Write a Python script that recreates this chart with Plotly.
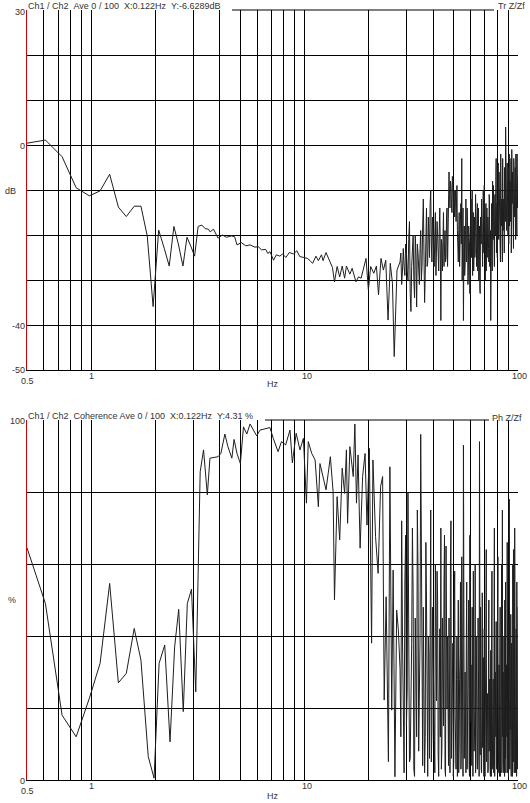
import math
import plotly.graph_objects as go

W, H = 530, 803

# transfer function, low range (Hz, dB)
freq_tr_lo = [0.5, 0.61, 0.73, 0.79, 0.85, 0.98, 1.10, 1.22, 1.34, 1.46, 1.59, 1.71, 1.83, 1.95,
              2.07, 2.20, 2.32, 2.44, 2.56, 2.69, 2.81, 2.93, 3.05, 3.17, 3.30, 3.42, 3.54, 3.61,
              3.74, 3.93, 4.12, 4.30, 4.54, 4.70, 4.82, 5.05, 5.30, 5.55, 5.85, 6.06, 6.29, 6.57,
              6.72, 6.88, 7.15, 7.37, 7.66, 7.88, 8.17, 8.47, 8.86, 9.20, 9.49, 9.93, 10.3, 10.6,
              10.9, 11.3, 11.6, 12.0, 12.2, 12.6, 13.1, 13.5, 13.8, 14.2, 14.6, 15.0, 15.4, 15.7,
              16.3, 16.7, 17.4, 17.9, 18.4, 18.8, 19.4, 19.9, 20.4, 21.1, 21.7, 22.2, 22.8, 23.4,
              24.0, 24.6, 25.2, 25.8, 26.3, 27.1, 27.6]
db_lo = [0.4, 1.1, -2.6, -6.3, -9.5, -11.3, -10.2, -6.5, -13.8, -15.9, -13.6, -13.6, -20.2, -35.9,
         -18.9, -23.0, -26.9, -18.1, -22.0, -26.9, -20.5, -22.5, -24.7, -18.1, -17.8, -18.6, -18.7, -19.3,
         -18.7, -20.7, -20.0, -20.5, -20.2, -20.4, -22.2, -21.7, -22.4, -22.2, -22.7, -22.6, -23.3, -23.2,
         -24.1, -23.7, -25.6, -24.4, -24.7, -24.2, -25.0, -23.9, -24.2, -23.5, -24.8, -25.0, -25.2, -25.7,
         -26.3, -24.7, -25.7, -24.4, -25.7, -23.9, -25.9, -27.2, -30.4, -27.0, -29.3, -26.9, -29.6, -26.9,
         -28.7, -27.4, -30.4, -29.3, -29.6, -27.8, -25.2, -32.2, -27.0, -28.5, -26.9, -33.3, -25.2, -27.8,
         -25.6, -38.9, -26.3, -30.7, -47.0, -27.8, -27.0]

# coherence, low range (Hz, %)
freq_coh_lo = [0.5, 0.61, 0.73, 0.85, 0.98, 1.10, 1.22, 1.34, 1.46, 1.59, 1.71, 1.85, 1.97, 2.08,
               2.21, 2.34, 2.46, 2.57, 2.70, 2.82, 2.95, 3.09, 3.24, 3.36, 3.50, 3.60, 3.93, 4.05,
               4.23, 4.37, 4.56, 4.67, 4.82, 5.0, 5.17, 5.36, 5.55, 5.75, 5.96, 6.18, 6.88, 7.13,
               7.51, 7.79, 8.15, 8.54, 8.76, 9.13, 9.51, 9.87, 10.2, 10.4, 10.8, 11.2, 11.6, 11.8,
               12.2, 12.6, 12.9, 13.2, 13.6, 13.8, 14.2, 14.6, 15.0, 15.4, 15.7, 15.9, 16.3, 16.9,
               17.2, 17.5, 17.8, 18.2, 18.7, 19.2, 19.6, 20.1, 20.6, 20.9, 21.5, 22.1, 22.7, 23.2,
               23.6, 24.1, 24.7, 25.1, 25.6, 26.0, 26.5, 27.0, 27.5]
coh_lo = [64.5, 49, 18, 12, 22.7, 32.4, 54.6, 27, 29.6, 42.1, 33.3, 6.5, 0.5, 32.4,
          37.5, 10.6, 37, 47.4, 19, 49, 53, 24.5, 85.6, 91.7, 79.2, 89.4, 89.8, 90.7,
          96.1, 92.6, 89.4, 94.6, 90.7, 87.9, 98.1, 96.1, 98.9, 97.4, 95.6, 97.2, 97.9, 94.9,
          91.2, 94, 93.1, 97.2, 88.1, 96.3, 91.7, 94.9, 76.9, 94, 90.7, 88.9, 75.9, 87.9,
          84.3, 80.6, 85.2, 89.8, 80.1, 50, 78.7, 66.7, 86.6, 79.6, 91.7, 71.3, 92.6, 84.3,
          98.9, 76.9, 90.3, 64.4, 84.3, 90.7, 70.8, 92.1, 38, 88.9, 67.6, 57.4, 81.5, 84.3,
          22.2, 50.9, 5.1, 87, 19.4, 58.3, 0.9, 47.2, 41.7]

# high range, shared frequency points (half-hertz and quarter-hertz offsets)
freq_hi = [28.0, 28.5, 29.0, 29.5, 30.0, 30.5, 31.0, 31.5, 32.0, 32.5,
           33.0, 33.5, 34.0, 34.5, 35.0, 35.5, 36.0, 36.5, 37.0, 37.5,
           38.0, 38.5, 39.0, 39.5, 40.0, 40.5, 41.0, 41.5, 42.0, 42.5,
           43.0, 43.5, 44.0, 44.5, 45.0, 45.5, 46.0, 46.5, 47.0, 47.5,
           48.0, 48.5, 49.0, 49.5, 50.0, 50.5, 51.0, 51.5, 52.0, 52.5,
           53.0, 53.5, 54.0, 54.5, 55.0, 55.5, 56.0, 56.5, 57.0, 57.5,
           58.0, 58.5, 59.0, 59.5, 60.0, 60.5, 61.0, 61.5, 62.0, 62.5,
           63.0, 63.5, 64.0, 64.5, 65.0, 65.5, 66.0, 66.5, 67.0, 67.5,
           68.0, 68.5, 69.0, 69.5, 70.0, 70.5, 71.0, 71.5, 72.0, 72.5,
           73.0, 73.5, 74.0, 74.5, 75.0, 75.5, 76.0, 76.5, 77.0, 77.5,
           78.0, 78.5, 79.0, 79.5, 80.0, 80.5, 81.0, 81.5, 82.0, 82.5,
           83.0, 83.5, 84.0, 84.5, 85.0, 85.5, 86.0, 86.5, 87.0, 87.5,
           88.0, 88.5, 89.0, 89.5, 90.0, 90.5, 91.0, 91.5, 92.0, 92.5,
           93.0, 93.5, 94.0, 94.5, 95.0, 95.5, 96.0, 96.5, 97.0, 97.5,
           98.0, 98.5, 99.0, 99.5, 100.0]
freq_mid = [28.25, 28.75, 29.25, 29.75, 30.25, 30.75, 31.25, 31.75, 32.25, 32.75,
            33.25, 33.75, 34.25, 34.75, 35.25, 35.75, 36.25, 36.75, 37.25, 37.75,
            38.25, 38.75, 39.25, 39.75, 40.25, 40.75, 41.25, 41.75, 42.25, 42.75,
            43.25, 43.75, 44.25, 44.75, 45.25, 45.75, 46.25, 46.75, 47.25, 47.75,
            48.25, 48.75, 49.25, 49.75, 50.25, 50.75, 51.25, 51.75, 52.25, 52.75,
            53.25, 53.75, 54.25, 54.75, 55.25, 55.75, 56.25, 56.75, 57.25, 57.75,
            58.25, 58.75, 59.25, 59.75, 60.25, 60.75, 61.25, 61.75, 62.25, 62.75,
            63.25, 63.75, 64.25, 64.75, 65.25, 65.75, 66.25, 66.75, 67.25, 67.75,
            68.25, 68.75, 69.25, 69.75, 70.25, 70.75, 71.25, 71.75, 72.25, 72.75,
            73.25, 73.75, 74.25, 74.75, 75.25, 75.75, 76.25, 76.75, 77.25, 77.75,
            78.25, 78.75, 79.25, 79.75, 80.25, 80.75, 81.25, 81.75, 82.25, 82.75,
            83.25, 83.75, 84.25, 84.75, 85.25, 85.75, 86.25, 86.75, 87.25, 87.75,
            88.25, 88.75, 89.25, 89.75, 90.25, 90.75, 91.25, 91.75, 92.25, 92.75,
            93.25, 93.75, 94.25, 94.75, 95.25, 95.75, 96.25, 96.75, 97.25, 97.75,
            98.25, 98.75, 99.25, 99.75]

db_hi = [-26, -31, -23, -29, -24, -30, -17,
         -37, -22, -30, -20, -36, -24, -31, -19,
         -27, -12, -35, -21, -27, -16, -25,
         -10, -26, -18, -27, -15, -24, -20, -28, -14, -39, -22, -17, -27, -19, -25, -14, -22,
         -6, -14, -9, -15, -8, -12, -16, -10, -14, -19,
         -26, -15, -24, -13, -3, -22, -39, -18,
         -27, -12, -24, -17, -29, -20, -33, -15, -25, -10, -22, -28, -16, -24, -19, -27, -13, -23,
         -30, -18, -33, -21, -12, -26, -17, -23, -9, -25, -20, -28, -14, -22, -18, -26, -12, -20,
         -39, -16, -24, -8, -21, -14, -27, -11, -19, -3, -17, -25, -10, -20, -6, -15, -23, -2,
         -18, -12, -26, -9, -16, -21, -5, -14,
         4, -12, -19, -4, -15, -8, -22, -2, -11, -17, -6, -24, -1, -13, -9, -19, -3, -10,
         -16, -5, -21, -7, -12, -2, -14, -7]
db_mid = [-24, -28, -27, -22, -28, -21,
          -33, -27, -20, -34, -25, -22, -28, -23,
          -30, -18, -24, -29, -14, -26, -20, -13,
          -22, -16, -25, -20, -29, -17, -25, -19, -24, -21, -28, -15, -23, -26, -16, -27, -12,
          -11, -8, -13, -7, -15, -10, -12, -17, -9, -22,
          -20, -27, -16, -22, -30, -14, -24, -29,
          -19, -26, -14, -31, -18, -22, -27, -12, -20, -29, -15, -21, -25, -11, -23, -17, -28, -14,
          -24, -32, -16, -22, -19, -27, -10, -24, -18, -30, -13, -21, -25, -16, -23, -11, -27, -19,
          -22, -13, -28, -17, -9, -23, -15, -20, -7, -24, -13, -18, -4, -21, -16, -11, -26, -8,
          -14, -22, -3, -19, -12, -24, -10, -17,
          -9, -2, -16, -11, -20, -5, -13, -18, -8, -14, -3, -20, -10, -6, -15, -23, -4, -12,
          -8, -18, -2, -13, -20, -6, -10]

coh_hi = [31, 72, 8, 55, 15, 80, 5,
          20, 70, 3, 45, 12, 58, 25, 96,
          10, 48, 2, 66, 18, 40, 6,
          75, 14, 35, 4, 60, 22, 50, 1, 42, 70, 9, 30, 55, 3, 65, 20, 8,
          45, 2, 72, 16, 38, 5, 58, 12, 28, 1,
          50, 10, 35, 3, 62, 18, 93, 6,
          30, 2, 55, 14, 40, 4, 68, 20, 8, 48, 1, 35, 12, 60, 5, 26, 3, 45,
          15, 94, 7, 38, 2, 52, 18, 6, 42, 1, 30, 64, 10, 24, 3, 50, 14, 4,
          36, 1, 58, 12, 28, 2, 70, 8, 20, 44, 3, 16, 62, 5, 32, 1, 48, 10,
          24, 2, 75, 14, 6, 40, 1, 28,
          55, 4, 18, 66, 2, 36, 9, 78, 3, 22, 46, 1, 30, 12, 60, 5, 26, 2,
          70, 15, 8, 42, 1, 34, 10, 48]
coh_mid = [12, 40, 2, 68, 25, 48,
           6, 38, 52, 1, 30, 75, 8, 40,
           55, 4, 28, 12, 50, 1, 35, 60,
           5, 48, 18, 2, 33, 58, 7, 25, 12, 3, 45, 15, 68, 1, 28, 40, 4,
           22, 60, 6, 30, 1, 48, 18, 3, 40, 14,
           2, 28, 55, 8, 20, 1, 42, 15,
           10, 38, 3, 22, 50, 1, 16, 32, 4, 26, 58, 8, 20, 2, 40, 14, 6, 30,
           1, 22, 48, 3, 18, 9, 34, 1, 24, 12, 45, 5, 16, 2, 36, 8, 28, 1,
           14, 42, 3, 20, 6, 48, 1, 30, 12, 4, 26, 55, 2, 18, 8, 38, 1, 22,
           60, 5, 12, 30, 2, 20, 50, 6,
           2, 32, 12, 5, 44, 1, 20, 58, 7, 14, 3, 38, 18, 1, 26, 64, 4, 12,
           35, 2, 22, 6, 55, 3, 16]

grid_hz = [0.6, 0.7, 0.8, 0.9, 1, 2, 3, 4, 5, 6, 7, 8, 9, 10,
           20, 30, 40, 50, 60, 70, 80, 90, 100]
grid_db = [-50, -40, -30, -20, -10, 0, 10, 20]
grid_pct = [0, 20, 40, 60, 80]

FONT = "Liberation Sans, Arial, sans-serif"
TXT = "#333333"
LINE = "#1e1e1e"


def px(x):
    return x / W


def py(y):
    return 1 - y / H


def merged(f_lo, v_lo, f_a, v_a, f_b, v_b):
    hi = sorted(zip(f_a + f_b, v_a + v_b))
    return f_lo + [p[0] for p in hi], v_lo + [p[1] for p in hi]


tr_x, tr_y = merged(freq_tr_lo, db_lo, freq_hi, db_hi, freq_mid, db_mid)
coh_x, coh_y = merged(freq_coh_lo, coh_lo, freq_hi, coh_hi, freq_mid, coh_mid)

fig = go.Figure()
fig.add_trace(go.Scatter(x=tr_x, y=tr_y, mode="lines",
                         line=dict(color=LINE, width=1), xaxis="x", yaxis="y"))
fig.add_trace(go.Scatter(x=coh_x, y=coh_y, mode="lines",
                         line=dict(color=LINE, width=1), xaxis="x2", yaxis="y2"))

xcommon = dict(type="log", range=[math.log10(0.5), 2], domain=[px(27), px(518)],
               tickvals=grid_hz, showticklabels=False, ticks="", showgrid=True,
               gridcolor="black", gridwidth=1, zeroline=False,
               showline=True, linecolor="black", linewidth=1)
ycommon = dict(showticklabels=False, ticks="", showgrid=True, gridcolor="black",
               gridwidth=1, zeroline=False, showline=True, linecolor="#d20000", linewidth=1)

fig.update_layout(
    width=W, height=803,
    margin=dict(l=0, r=0, t=0, b=0),
    paper_bgcolor="white", plot_bgcolor="white",
    showlegend=False,
    xaxis=dict(xcommon, anchor="y"),
    yaxis=dict(ycommon, range=[-50, 30], tickvals=grid_db,
               domain=[py(370), py(10)], anchor="x"),
    xaxis2=dict(xcommon, anchor="y2"),
    yaxis2=dict(ycommon, range=[0, 100], tickvals=grid_pct,
                domain=[py(780), py(420)], anchor="x2"),
)

# partial top borders (header boxes blank the rest)
fig.add_shape(type="line", xref="paper", yref="paper", x0=px(232), x1=px(494),
              y0=py(10), y1=py(10), line=dict(color="black", width=1))
fig.add_shape(type="line", xref="paper", yref="paper", x0=px(265), x1=px(489),
              y0=py(420), y1=py(420), line=dict(color="black", width=1))

nb = "\u00a0"
labels = [
    ("Ch1 / Ch2" + nb * 2 + "Ave 0 / 100" + nb * 2 + "X:0.122Hz" + nb * 2 + "Y:-6.6289dB",
     27, 6, "left"),
    ("Tr Z/Zf", 526, 6, "right"),
    ("30", 26, 12, "right"),
    ("0", 26, 146, "right"),
    ("dB", 17, 191, "right"),
    ("-40", 26, 326, "right"),
    ("-50", 26, 370, "right"),
    ("0.5", 27, 381, "center"),
    ("1", 91, 375.5, "center"),
    ("10", 307, 375.5, "center"),
    ("100", 519, 375.5, "center"),
    ("Hz", 273, 384, "center"),
    ("Ch1 / Ch2" + nb * 2 + "Coherence Ave 0 / 100" + nb * 2 + "X:0.122Hz" + nb * 2 + "Y:4.31 %",
     27, 416, "left"),
    ("Ph Z/Zf", 523, 418, "right"),
    ("100", 26, 420.5, "right"),
    ("%", 17, 600, "right"),
    ("0", 26, 780.5, "right"),
    ("0.5", 27, 791, "center"),
    ("1", 91, 786, "center"),
    ("10", 307, 785.5, "center"),
    ("100", 519, 785.5, "center"),
    ("Hz", 273, 796, "center"),
]
for text, x, y, anchor in labels:
    fig.add_annotation(text=text, xref="paper", yref="paper", x=px(x), y=py(y),
                       xanchor=anchor, yanchor="middle", showarrow=False,
                       font=dict(family=FONT, size=9, color=TXT),
                       borderpad=0)

# the page's default body margin would shift the fixed-size figure
fig.write_html("out.html", config={"displayModeBar": False},
               post_script="document.body.style.margin='0px';")
